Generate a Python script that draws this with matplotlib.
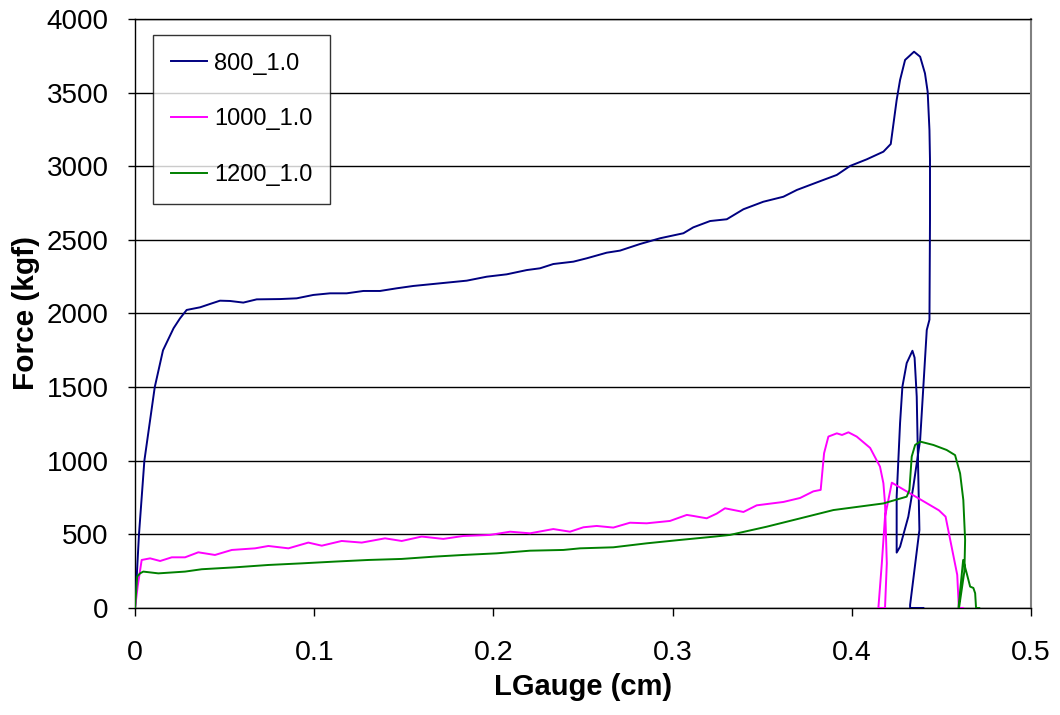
import matplotlib
matplotlib.use("Agg")
import matplotlib.pyplot as plt

plt.rcParams['font.family'] = ['Liberation Sans', 'DejaVu Sans']

# --------------------------------------------------------------
# data (LGauge in cm, Force in kgf)
labels = ["800_1.0", "1000_1.0", "1200_1.0"]
colors = ["#000080", "#FF00FF", "#008000"]

x800 = [0, 0.0022, 0.0052, 0.011, 0.0156, 0.0215, 0.0251, 0.0288, 0.0363, 0.0419,
        0.0474, 0.053, 0.0604, 0.0679, 0.0809, 0.0902, 0.0995, 0.1088, 0.1181, 0.1274,
        0.1367, 0.146, 0.1553, 0.1702, 0.1851, 0.1963, 0.2074, 0.2186, 0.226, 0.2334,
        0.2446, 0.2521, 0.2632, 0.2706, 0.2818, 0.293, 0.306, 0.3115, 0.3209, 0.3302,
        0.3395, 0.3506, 0.3618, 0.3693, 0.3841, 0.3916, 0.399, 0.4083, 0.4176, 0.4217,
        0.4250, 0.4269, 0.4297, 0.4347, 0.4381, 0.4408, 0.4423, 0.4433, 0.4436, 0.4436,
        0.4433, 0.4418, 0.4381, 0.4343, 0.4315, 0.4269, 0.4250, 0.4250, 0.4269, 0.4282,
        0.4306, 0.4338, 0.4350, 0.4362, 0.4369, 0.4377, 0.4325, 0.4325, 0.4399]
y800 = [0, 500, 1000, 1500, 1750, 1900, 1967, 2024, 2042, 2065,
        2087, 2085, 2074, 2096, 2098, 2103, 2126, 2137, 2137, 2153,
        2153, 2171, 2187, 2205, 2223, 2250, 2266, 2295, 2307, 2336,
        2352, 2375, 2413, 2427, 2472, 2511, 2545, 2585, 2628, 2640,
        2708, 2759, 2793, 2839, 2907, 2941, 3002, 3047, 3099, 3151,
        3450, 3586, 3722, 3778, 3744, 3631, 3506, 3246, 3043, 2632,
        1958, 1888, 1141, 824, 620, 416, 376, 756, 1256, 1503,
        1663, 1747, 1700, 1435, 1000, 530, 20, 0, 0]

x1000 = [0, 0.0015, 0.0037, 0.0084, 0.014, 0.0205, 0.0279, 0.0353, 0.0446, 0.054,
         0.067, 0.0744, 0.0856, 0.0967, 0.1042, 0.1153, 0.1265, 0.1395, 0.1488, 0.16,
         0.172, 0.1832, 0.1981, 0.2093, 0.2204, 0.2334, 0.2427, 0.2502, 0.2576, 0.2669,
         0.2762, 0.2855, 0.2985, 0.3079, 0.3115, 0.319, 0.3246, 0.3292, 0.3395, 0.3469,
         0.3618, 0.3711, 0.3785, 0.3826, 0.3845, 0.3869, 0.3916, 0.3945, 0.3981, 0.4027,
         0.4102, 0.4157, 0.4176, 0.4185, 0.4195, 0.4185, 0.4148, 0.4167, 0.4185, 0.4223,
         0.4486, 0.4523, 0.4588, 0.4597, 0.4620]
y1000 = [0, 150, 326, 337, 319, 344, 344, 378, 360, 394,
         405, 421, 405, 444, 423, 455, 444, 473, 455, 485,
         469, 489, 496, 518, 507, 536, 518, 548, 557, 546,
         579, 575, 591, 632, 625, 609, 641, 677, 652, 697,
         720, 747, 792, 802, 1051, 1164, 1186, 1175, 1193, 1164,
         1087, 960, 847, 711, 303, 0, 0, 300, 620, 851,
         663, 620, 225, 0, 0]

x1200 = [0, 0.0012, 0.0028, 0.0046, 0.013, 0.0279, 0.0372, 0.0558, 0.0744, 0.093,
         0.1116, 0.1302, 0.1488, 0.1674, 0.1832, 0.2018, 0.2204, 0.239, 0.2483, 0.2669,
         0.2855, 0.3041, 0.3227, 0.332, 0.3525, 0.37, 0.3897, 0.4176, 0.4306, 0.4321,
         0.4334, 0.4353, 0.4381, 0.4455, 0.4529, 0.4576, 0.4604, 0.4622, 0.4632, 0.4628,
         0.4598, 0.4595, 0.4621, 0.4641, 0.4660, 0.4678, 0.4688, 0.4693, 0.4711]
y1200 = [0, 213, 235, 247, 235, 247, 263, 276, 292, 303,
         315, 326, 333, 349, 360, 371, 389, 394, 405, 412,
         439, 462, 484, 496, 552, 605, 665, 710, 756, 800,
         1028, 1107, 1130, 1107, 1073, 1038, 914, 733, 462, 250,
         0, 0, 326, 235, 145, 136, 100, 0, 0]

xticks = [0, 0.1, 0.2, 0.3, 0.4, 0.5]
xtick_labels = ["0", "0.1", "0.2", "0.3", "0.4", "0.5"]
yticks = [0, 500, 1000, 1500, 2000, 2500, 3000, 3500, 4000]
# --------------------------------------------------------------

fig = plt.figure(figsize=(10.6, 7.15), dpi=100)
ax = fig.add_axes([0.1274, 0.1497, 0.8453, 0.8237])

series = [(x800, y800), (x1000, y1000), (x1200, y1200)]
for (xs, ys), lab, col in zip(series, labels, colors):
  ax.plot(xs, ys, color=col, label=lab, linewidth=1.4, zorder=3)

ax.set_xlim(0, 0.5)
ax.set_ylim(0, 4000)
ax.set_xticks(xticks)
ax.set_xticklabels(xtick_labels)
ax.set_yticks(yticks)

# gridlines (horizontal only, Excel style)
ax.yaxis.grid(True, color="black", linewidth=1.0)
ax.set_axisbelow(True)

for side in ["left", "bottom", "top"]:
  ax.spines[side].set_color("black")
  ax.spines[side].set_linewidth(1.0)
ax.spines["right"].set_color("#808080")
ax.spines["right"].set_linewidth(1.5)

ax.tick_params(axis="x", direction="out", length=6, width=1, labelsize=20.5, pad=17)
ax.tick_params(axis="y", direction="out", length=5, width=1, labelsize=20, pad=14)

ax.set_xlabel("LGauge (cm)", fontsize=21, fontweight="bold", labelpad=5)
ax.set_ylabel("Force (kgf)", fontsize=21.5, fontweight="bold", labelpad=5)

leg = ax.legend(loc="upper left", bbox_to_anchor=(0.020, 0.973), borderaxespad=0,
                fontsize=17, frameon=True, fancybox=False, edgecolor="black",
                handlelength=1.55, handletextpad=0.3, labelspacing=1.43,
                borderpad=0.75)
leg.get_frame().set_linewidth(1.0)

fig.savefig("out.png", dpi=100)
